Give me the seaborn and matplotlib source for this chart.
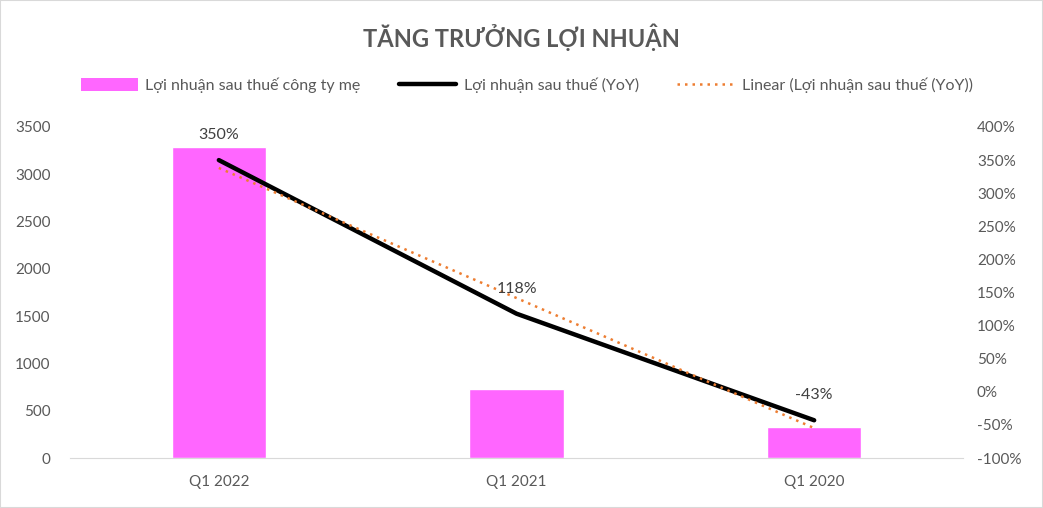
import numpy as np
import pandas as pd
import matplotlib
matplotlib.use('Agg')
import matplotlib.pyplot as plt
import seaborn as sns
from matplotlib.lines import Line2D
from matplotlib.patches import Patch, Rectangle

quarters = ['Q1 2022', 'Q1 2021', 'Q1 2020']
profit = [3285, 730, 330]
yoy = [350, 118, -43]
yoy_labels = ['350%', '118%', '-43%']

sns.set_style('white')
plt.rcParams['font.family'] = ['Lato', 'DejaVu Sans']

df = pd.DataFrame({'quarter': quarters, 'profit': profit, 'yoy': yoy})
df['pos'] = np.arange(len(df))

fig = plt.figure(figsize=(10.43, 5.08), dpi=100)
ax = fig.add_axes([70 / 1043, 1 - 458 / 508, 893 / 1043, 331 / 508])

sns.barplot(data=df, x='quarter', y='profit', ax=ax, color='#ff66ff',
            width=0.317, saturation=1)
ax.set_xlim(-0.5, 2.5)
ax.set_ylim(0, 3500)
ax.set_yticks(range(0, 3501, 500))
ax.set_xlabel('')
ax.set_ylabel('')

ax2 = ax.twinx()
# linear trendline of the YoY series
k, b = np.polyfit(df['pos'] + 1, df['yoy'], 1)
df['trend'] = k * (df['pos'] + 1) + b
sns.lineplot(data=df, x='pos', y='yoy', ax=ax2, color='black', linewidth=3.2,
             solid_capstyle='round')
sns.lineplot(data=df, x='pos', y='trend', ax=ax2, color='#ed7d31', linewidth=1.8,
             linestyle=(0, (1, 2)))
ax2.set_ylim(-100, 400)
ax2.set_yticks(range(-100, 401, 50))
ax2.set_yticklabels([f'{v}%' for v in range(-100, 401, 50)])
ax2.set_ylabel('')
ax2.set_xlim(-0.5, 2.5)

for p, v, t in zip(df['pos'], yoy, yoy_labels):
    ax2.annotate(t, (p, v), xytext=(0, 18), textcoords='offset points',
                 ha='center', va='center', fontsize=11.5, color='#404040')

for a in (ax, ax2):
    for s in a.spines.values():
        s.set_visible(False)
    a.tick_params(length=0, labelsize=11, labelcolor='#595959')
ax.spines['bottom'].set_visible(True)
ax.spines['bottom'].set_color('#d9d9d9')
ax.tick_params(axis='y', pad=14)
ax.tick_params(axis='x', pad=12)
ax2.tick_params(axis='y', pad=10)

fig.text(0.5, 1 - 37 / 508, 'TĂNG TRƯỞNG LỢI NHUẬN', ha='center', va='center',
         fontsize=17, fontweight='bold', color='#595959')

handles = [Patch(facecolor='#ff66ff', edgecolor='none'),
           Line2D([], [], color='black', linewidth=3.2),
           Line2D([], [], color='#ed7d31', linewidth=1.8, linestyle=(0, (1, 2)))]
labels = ['Lợi nhuận sau thuế công ty mẹ', 'Lợi nhuận sau thuế (YoY)',
          'Linear (Lợi nhuận sau thuế (YoY))']
leg = fig.legend(handles, labels, loc='center', bbox_to_anchor=(0.505, 1 - 85 / 508),
                 ncol=3, frameon=False, fontsize=11.5, handlelength=3.6,
                 handleheight=0.9, columnspacing=2.4, handletextpad=0.45)
for t in leg.get_texts():
    t.set_color('#595959')

fig.patches.append(Rectangle((0, 0), 1, 1, transform=fig.transFigure, fill=False,
                             edgecolor='#d9d9d9', linewidth=1.5))

fig.savefig('out.png', dpi=100)
